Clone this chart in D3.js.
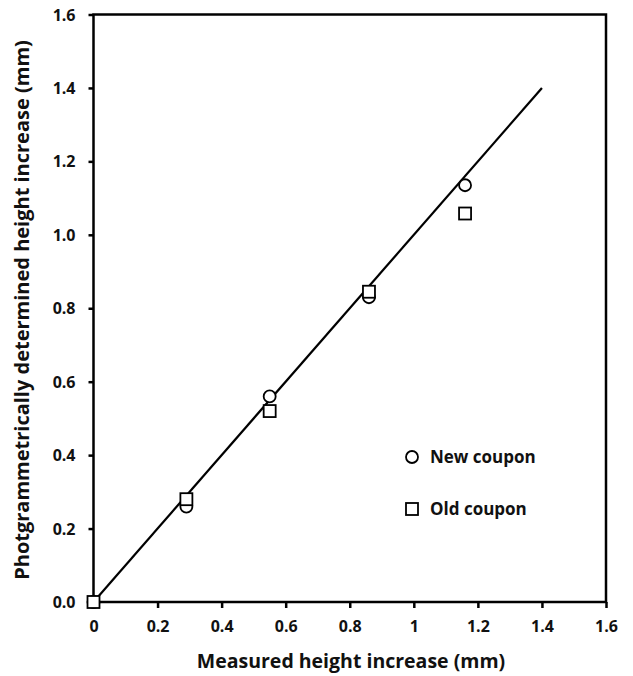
<!DOCTYPE html>
<html>
<head>
<meta charset="utf-8">
<script src="https://cdn.jsdelivr.net/npm/d3@7"></script>
<style>
  body { margin: 0; background: #fff; }
  text { font-family: "Open Sans", sans-serif; font-weight: bold; fill: #111; }
</style>
</head>
<body>
<svg id="chart" width="633" height="676"></svg>
<script>
// measured vs photogrammetric height increase
const measured = [0, 0.29, 0.55, 0.86, 1.16];
const newCoupon = [0, 0.26, 0.56, 0.83, 1.135];
const oldCoupon = [0, 0.28, 0.52, 0.845, 1.058];
const lineX = [0, 1.4];
const lineY = [0, 1.4];
const xTicks = [0, 0.2, 0.4, 0.6, 0.8, 1, 1.2, 1.4, 1.6];
const yTicks = [0, 0.2, 0.4, 0.6, 0.8, 1.0, 1.2, 1.4, 1.6];

addEventListener("load", () => {
    let svg = d3.select("#chart");
    let x = d3.scaleLinear().domain([0, 1.6]).range([93.5, 606]);
    let y = d3.scaleLinear().domain([0, 1.6]).range([602, 14.5]);

    // frame
    svg.append("rect")
        .attr("x", x(0)).attr("y", y(1.6))
        .attr("width", x(1.6) - x(0)).attr("height", y(0) - y(1.6))
        .attr("fill", "none").attr("stroke", "#000").attr("stroke-width", 2.5);

    let xAxis = svg.append("g").attr("transform", `translate(0,${y(0)})`)
        .call(d3.axisBottom(x).tickValues(xTicks).tickSize(6).tickPadding(13)
            .tickFormat(d => d === 0 ? "0" : d3.format("")(+d.toFixed(1))));
    let yAxis = svg.append("g").attr("transform", `translate(${x(0)},0)`)
        .call(d3.axisLeft(y).tickValues(yTicks).tickSize(5).tickPadding(13)
            .tickFormat(d3.format(".1f")));

    [xAxis, yAxis].forEach(g => {
        g.select(".domain").remove();
        g.selectAll(".tick line").attr("stroke", "#000").attr("stroke-width", 2.5);
        g.selectAll(".tick text").attr("font-size", 16).attr("font-family", "'Open Sans', sans-serif")
            .attr("font-weight", "bold").attr("fill", "#111");
    });
    yAxis.selectAll(".tick text").attr("dy", "0.35em");

    // 1:1 line
    svg.append("line")
        .attr("x1", x(lineX[0])).attr("y1", y(lineY[0]))
        .attr("x2", x(lineX[1])).attr("y2", y(lineY[1]))
        .attr("stroke", "#000").attr("stroke-width", 2.2);

    // new coupon circles
    svg.append("g").selectAll("circle").data(measured).join("circle")
        .attr("cx", d => x(d)).attr("cy", (d, i) => y(newCoupon[i]))
        .attr("r", 6).attr("fill", "#fff").attr("stroke", "#000").attr("stroke-width", 1.8);

    // old coupon squares
    svg.append("g").selectAll("rect").data(measured).join("rect")
        .attr("x", d => x(d) - 6).attr("y", (d, i) => y(oldCoupon[i]) - 6)
        .attr("width", 12).attr("height", 12)
        .attr("fill", "#fff").attr("stroke", "#000").attr("stroke-width", 1.8);

    // legend
    svg.append("circle").attr("cx", 412).attr("cy", 457).attr("r", 6)
        .attr("fill", "#fff").attr("stroke", "#000").attr("stroke-width", 1.8);
    svg.append("text").attr("x", 430).attr("y", 463).attr("font-size", 17).text("New coupon");
    svg.append("rect").attr("x", 406).attr("y", 503).attr("width", 12).attr("height", 12)
        .attr("fill", "#fff").attr("stroke", "#000").attr("stroke-width", 1.8);
    svg.append("text").attr("x", 430).attr("y", 515).attr("font-size", 17).text("Old coupon");

    // axis titles
    svg.append("text").attr("x", 351).attr("y", 668)
        .attr("text-anchor", "middle").attr("font-size", 19.5)
        .text("Measured height increase (mm)");
    svg.append("text")
        .attr("transform", `translate(29,310) rotate(-90)`)
        .attr("text-anchor", "middle").attr("font-size", 20)
        .text("Photgrammetrically determined height increase (mm)");
});
</script>
</body>
</html>
